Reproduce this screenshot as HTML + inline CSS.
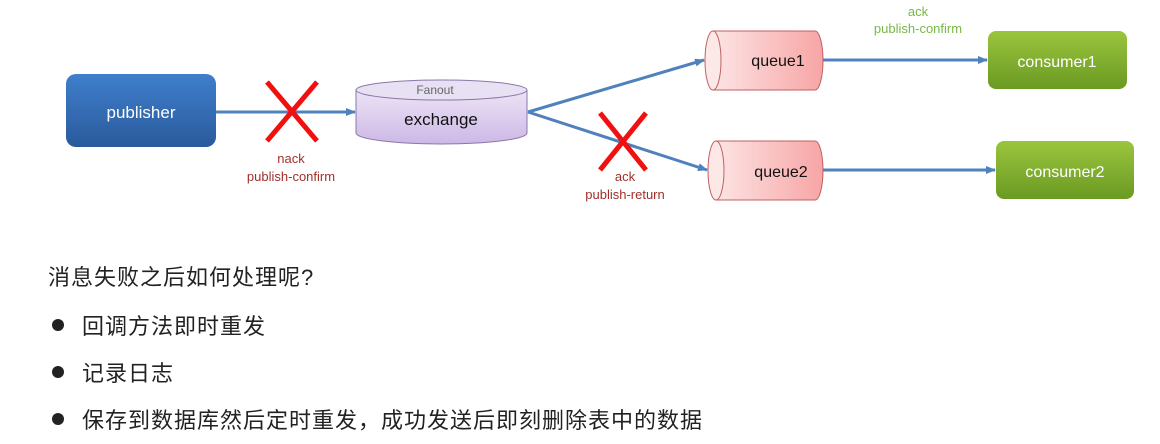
<!DOCTYPE html>
<html><head><meta charset="utf-8"><style>
html,body{margin:0;padding:0;background:#fff;width:1160px;height:444px;overflow:hidden}
.t{position:absolute;font-family:"Liberation Sans","Noto Sans CJK SC",sans-serif;font-size:22px;letter-spacing:1px;color:#222;white-space:nowrap;line-height:1}
.dot{position:absolute;width:12px;height:12px;border-radius:50%;background:#222}
</style></head><body>
<svg width="1160" height="444" style="position:absolute;left:0;top:0" font-family="Liberation Sans, sans-serif">
<defs>
<linearGradient id="gb" x1="0" y1="0" x2="0" y2="1"><stop offset="0" stop-color="#3f7fcc"/><stop offset="1" stop-color="#2a5a9c"/></linearGradient>
<linearGradient id="gp" x1="0" y1="0" x2="0" y2="1"><stop offset="0" stop-color="#ece4f6"/><stop offset="1" stop-color="#cdb8e6"/></linearGradient>
<linearGradient id="gr" x1="0" y1="0" x2="1" y2="0"><stop offset="0" stop-color="#fde4e4"/><stop offset="1" stop-color="#f7a5a5"/></linearGradient>
<linearGradient id="gg" x1="0" y1="0" x2="0" y2="1"><stop offset="0" stop-color="#9bc53e"/><stop offset="1" stop-color="#6a9a22"/></linearGradient>
<marker id="ar" markerWidth="10" markerHeight="8" refX="9" refY="4" orient="auto" markerUnits="userSpaceOnUse"><path d="M0,0 L10,4 L0,8 z" fill="#4f81bd"/></marker>
</defs>
<rect x="66" y="74" width="150" height="73" rx="10" fill="url(#gb)"/>
<text x="141" y="118" fill="#fff" font-size="17" text-anchor="middle">publisher</text>
<line x1="216" y1="112" x2="355" y2="112" stroke="#4f81bd" stroke-width="3" marker-end="url(#ar)"/>
<path d="M356,90 L356,133 A85.5,11 0 0 0 527,133 L527,90" fill="url(#gp)" stroke="#8a78a8" stroke-width="1"/>
<ellipse cx="441.5" cy="90" rx="85.5" ry="10" fill="#e8e0f3" stroke="#8a78a8" stroke-width="1"/>
<text x="435" y="94" fill="#666" font-size="12" text-anchor="middle">Fanout</text>
<text x="441" y="125" fill="#111" font-size="17" text-anchor="middle">exchange</text>
<line x1="528" y1="112" x2="704" y2="60" stroke="#4f81bd" stroke-width="3" marker-end="url(#ar)"/>
<line x1="528" y1="112" x2="707" y2="170" stroke="#4f81bd" stroke-width="3" marker-end="url(#ar)"/>
<path d="M713,31 L815,31 A8,29.5 0 0 1 815,90 L713,90 Z" fill="url(#gr)" stroke="#c06060" stroke-width="1"/>
<ellipse cx="713" cy="60.5" rx="8" ry="29.5" fill="#fde8e8" stroke="#c06060" stroke-width="1"/>
<text x="778" y="66" fill="#111" font-size="16" text-anchor="middle">queue1</text>
<path d="M716,141 L815,141 A8,29.5 0 0 1 815,200 L716,200 Z" fill="url(#gr)" stroke="#c06060" stroke-width="1"/>
<ellipse cx="716" cy="170.5" rx="8" ry="29.5" fill="#fde8e8" stroke="#c06060" stroke-width="1"/>
<text x="781" y="177" fill="#111" font-size="16" text-anchor="middle">queue2</text>
<line x1="823" y1="60" x2="987" y2="60" stroke="#4f81bd" stroke-width="3" marker-end="url(#ar)"/>
<line x1="823" y1="170" x2="995" y2="170" stroke="#4f81bd" stroke-width="3" marker-end="url(#ar)"/>
<rect x="988" y="31" width="139" height="58" rx="8" fill="url(#gg)"/>
<text x="1057" y="67" fill="#fff" font-size="16" text-anchor="middle">consumer1</text>
<rect x="996" y="141" width="138" height="58" rx="8" fill="url(#gg)"/>
<text x="1065" y="177" fill="#fff" font-size="16" text-anchor="middle">consumer2</text>
<text x="918" y="16" fill="#7ab648" font-size="13" text-anchor="middle">ack</text>
<text x="918" y="33" fill="#7ab648" font-size="13" text-anchor="middle">publish-confirm</text>
<text x="291" y="163" fill="#a0302c" font-size="13" text-anchor="middle">nack</text>
<text x="291" y="181" fill="#a0302c" font-size="13" text-anchor="middle">publish-confirm</text>
<text x="625" y="181" fill="#a0302c" font-size="13" text-anchor="middle">ack</text>
<text x="625" y="199" fill="#a0302c" font-size="13" text-anchor="middle">publish-return</text>
<g stroke="#f01010" stroke-width="5">
<line x1="267" y1="82" x2="317" y2="141"/><line x1="317" y1="82" x2="267" y2="141"/>
<line x1="600" y1="113" x2="646" y2="170"/><line x1="646" y1="113" x2="600" y2="170"/>
</g>
</svg>
<div class="t" style="left:48px;top:267px">消息失败之后如何处理呢?</div>
<div class="dot" style="left:52px;top:319px"></div>
<div class="t" style="left:82px;top:316px">回调方法即时重发</div>
<div class="dot" style="left:52px;top:366px"></div>
<div class="t" style="left:82px;top:363px">记录日志</div>
<div class="dot" style="left:52px;top:413px"></div>
<div class="t" style="left:82px;top:410px">保存到数据库然后定时重发，成功发送后即刻删除表中的数据</div>
</body></html>
